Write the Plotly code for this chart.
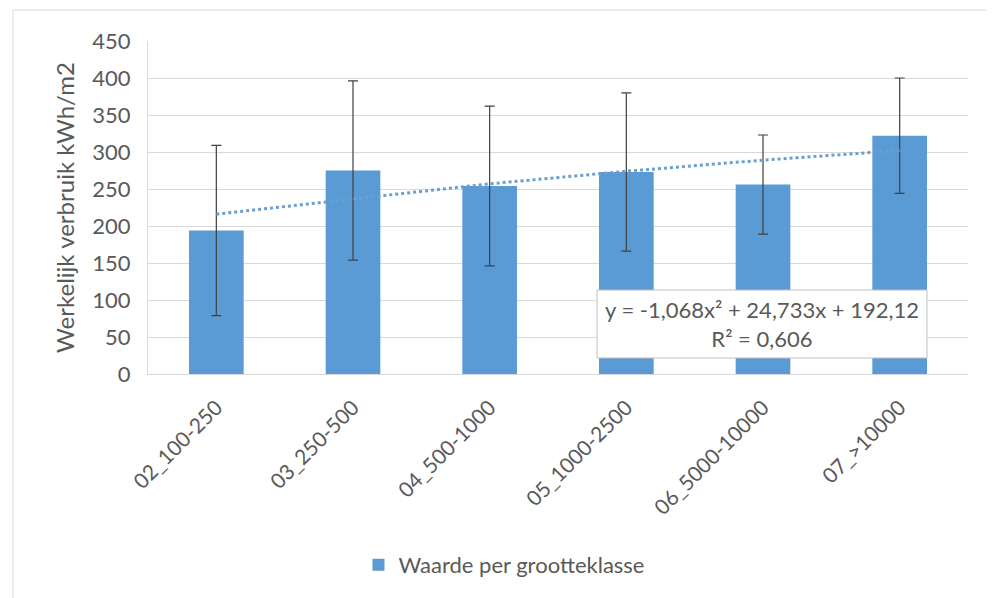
import plotly.graph_objects as go

categories = ["02_100-250", "03_250-500", "04_500-1000", "05_1000-2500", "06_5000-10000", "07_>10000"]
values = [194, 275, 254, 273, 256, 322]
errors = [115, 121, 108, 107, 67, 78]
trend_values = [216, 237, 257, 274, 289, 302]
y_ticks = [0, 50, 100, 150, 200, 250, 300, 350, 400, 450]
series_name = "Waarde per grootteklasse"
y_title = "Werkelijk verbruik kWh/m2"
equation_text = "y = -1,068x² + 24,733x + 192,12<br>R² = 0,606"

FONT = "Lato"
TXT = "#595959"

OFF = 8  # default body margin of the html page
W, H = 994 - OFF, 598 - OFF
L, R, T, B = 148, 968, 41, 374  # plot area in page pixels

fig = go.Figure()
fig.add_trace(go.Bar(
    x=categories, y=values, name=series_name,
    marker=dict(color="#5b9bd5", line=dict(width=0)),
    width=0.4,
    error_y=dict(type="data", array=errors, visible=True,
                 color="#404040", thickness=1.2, width=5),
))
fig.add_trace(go.Scatter(
    x=categories, y=trend_values, mode="lines", showlegend=False,
    line=dict(color="#6a9fcf", width=3, dash="dot"),
    hoverinfo="skip",
))

def px_x(p):
    return (p - L) / (R - L)

def px_y(p):
    return (B - p) / (B - T)

shapes = [
    dict(type="rect", xref="paper", yref="paper",
         x0=px_x(13), x1=px_x(991), y0=px_y(600), y1=px_y(10),
         line=dict(color="#d9d9d9", width=1), fillcolor="rgba(0,0,0,0)", layer="below"),
    dict(type="rect", xref="paper", yref="paper",
         x0=px_x(597), x1=px_x(927), y0=px_y(358), y1=px_y(290),
         line=dict(color="#bfbfbf", width=1), fillcolor="white", layer="above"),
]

fig.add_annotation(
    x=px_x(762), y=px_y(324), xref="paper", yref="paper",
    text=equation_text, showarrow=False, align="center",
    font=dict(family=FONT, size=22, color=TXT),
    xanchor="center", yanchor="middle",
)

fig.update_layout(
    width=W, height=H,
    margin=dict(l=L - OFF, r=994 - R, t=T - OFF, b=598 - B, pad=0),
    paper_bgcolor="white", plot_bgcolor="white",
    font=dict(family=FONT, size=22, color=TXT),
    shapes=shapes,
    showlegend=True,
    legend=dict(orientation="h", x=px_x(504), y=px_y(565),
                xanchor="center", yanchor="middle",
                font=dict(family=FONT, size=22, color=TXT),
                itemwidth=30),
    xaxis=dict(
        type="category", tickangle=-45, showgrid=False,
        showline=True, linecolor="#d9d9d9", linewidth=1,
        ticks="", tickfont=dict(family=FONT, size=21, color=TXT),
        ticklabelstandoff=12,
    ),
    yaxis=dict(
        range=[0, 450], tickvals=y_ticks, showgrid=True, gridcolor="#d9d9d9", gridwidth=1,
        showline=True, linecolor="#d9d9d9", linewidth=1, zeroline=False,
        ticks="outside", ticklen=12, tickcolor="rgba(0,0,0,0)",
        tickfont=dict(family=FONT, size=22, color=TXT),
        title=dict(text=y_title, font=dict(family=FONT, size=24, color=TXT), standoff=10),
    ),
)

fig.write_html("out.html")
